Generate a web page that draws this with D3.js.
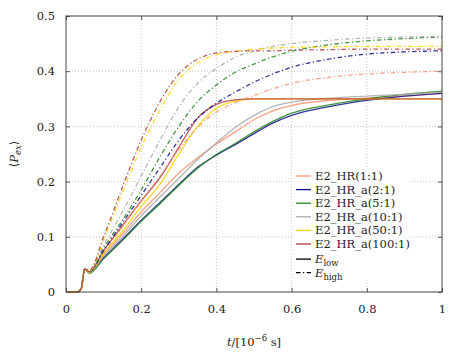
<!DOCTYPE html>
<html>
<head>
<meta charset="utf-8">
<script src="https://cdn.jsdelivr.net/npm/d3@7"></script>
<style>
  body { margin: 0; background: #fff; }
</style>
</head>
<body>
<div id="chart"></div>
<script>
// sample times (in 1e-6 s)
var times = [0, 0.03, 0.04, 0.05, 0.062, 0.1, 0.15, 0.2, 0.25, 0.3, 0.35, 0.4, 0.45, 0.5, 0.55, 0.6, 0.7, 0.8, 0.9, 1.0];

// E_low (solid)
var lowHR11   = [0, 0, 0.005, 0.042, 0.036, 0.068, 0.105, 0.145, 0.18, 0.215, 0.243, 0.268, 0.29, 0.312, 0.328, 0.338, 0.347, 0.351, 0.355, 0.36];
var lowHR21   = [0, 0, 0.005, 0.042, 0.035, 0.062, 0.095, 0.13, 0.162, 0.195, 0.226, 0.248, 0.267, 0.287, 0.306, 0.32, 0.336, 0.347, 0.355, 0.36];
var lowHR51   = [0, 0, 0.005, 0.042, 0.034, 0.06, 0.093, 0.128, 0.16, 0.193, 0.224, 0.249, 0.269, 0.29, 0.309, 0.324, 0.339, 0.35, 0.358, 0.364];
var lowHR101  = [0, 0, 0.005, 0.042, 0.035, 0.065, 0.1, 0.138, 0.172, 0.206, 0.24, 0.27, 0.298, 0.32, 0.336, 0.344, 0.351, 0.355, 0.358, 0.362];
var lowHR501  = [0, 0, 0.005, 0.042, 0.036, 0.07, 0.11, 0.155, 0.195, 0.25, 0.30, 0.333, 0.346, 0.35, 0.35, 0.35, 0.35, 0.35, 0.35, 0.35];
var lowHR1001 = [0, 0, 0.005, 0.042, 0.037, 0.075, 0.12, 0.165, 0.207, 0.262, 0.315, 0.34, 0.348, 0.35, 0.35, 0.35, 0.35, 0.35, 0.35, 0.35];

// E_high (dash-dot)
var highHR11   = [0, 0, 0.005, 0.042, 0.037, 0.072, 0.118, 0.165, 0.21, 0.258, 0.298, 0.326, 0.343, 0.356, 0.368, 0.378, 0.389, 0.395, 0.398, 0.40];
var highHR21   = [0, 0, 0.005, 0.042, 0.037, 0.075, 0.125, 0.175, 0.225, 0.275, 0.315, 0.342, 0.362, 0.38, 0.395, 0.407, 0.422, 0.431, 0.435, 0.437];
var highHR51   = [0, 0, 0.005, 0.042, 0.037, 0.08, 0.13, 0.185, 0.245, 0.3, 0.345, 0.375, 0.398, 0.413, 0.426, 0.436, 0.448, 0.455, 0.459, 0.462];
var highHR101  = [0, 0, 0.005, 0.042, 0.038, 0.085, 0.145, 0.21, 0.275, 0.335, 0.378, 0.405, 0.425, 0.437, 0.445, 0.45, 0.456, 0.46, 0.462, 0.463];
var highHR501  = [0, 0, 0.005, 0.042, 0.038, 0.095, 0.18, 0.262, 0.33, 0.385, 0.415, 0.43, 0.436, 0.44, 0.442, 0.443, 0.444, 0.445, 0.445, 0.445];
var highHR1001 = [0, 0, 0.005, 0.042, 0.039, 0.1, 0.19, 0.275, 0.345, 0.395, 0.422, 0.433, 0.436, 0.437, 0.437, 0.438, 0.439, 0.44, 0.44, 0.44];

var seriesNames = ["E2_HR(1:1)", "E2_HR_a(2:1)", "E2_HR_a(5:1)", "E2_HR_a(10:1)", "E2_HR_a(50:1)", "E2_HR_a(100:1)"];
var seriesColors = ["#f7946f", "#10108a", "#228422", "#a8a8a8", "#ffd200", "#b23c3c"];
var lowSeries = [lowHR11, lowHR21, lowHR51, lowHR101, lowHR501, lowHR1001];
var highSeries = [highHR11, highHR21, highHR51, highHR101, highHR501, highHR1001];

var xTicks = [0, 0.2, 0.4, 0.6, 0.8, 1];
var yTicks = [0, 0.1, 0.2, 0.3, 0.4, 0.5];

var FONT = "'DejaVu Serif'";
var FS = 11.5, FSS = 8.5;
var DASHDOT = "4.5,2.5,1.2,2.5";
var W = 463, H = 352;
var margin = { left: 66, right: 21, top: 16, bottom: 60 };
var pw = W - margin.left - margin.right, ph = H - margin.top - margin.bottom;

var svg = d3.select("#chart").append("svg").attr("width", W).attr("height", H)
  .style("font-family", FONT);
var g = svg.append("g").attr("transform", "translate(" + margin.left + "," + margin.top + ")");

var x = d3.scaleLinear().domain([0, 1]).range([0, pw]);
var y = d3.scaleLinear().domain([0, 0.5]).range([ph, 0]);

// grid
g.selectAll(".gx").data(xTicks.slice(1, -1)).enter().append("line")
  .attr("x1", x).attr("x2", x).attr("y1", 0).attr("y2", ph)
  .attr("stroke", "#b8b8b8").attr("stroke-width", 0.8).attr("stroke-dasharray", "1,2");
g.selectAll(".gy").data(yTicks.slice(1, -1)).enter().append("line")
  .attr("y1", y).attr("y2", y).attr("x1", 0).attr("x2", pw)
  .attr("stroke", "#b8b8b8").attr("stroke-width", 0.8).attr("stroke-dasharray", "1,2");

// axes with inward ticks on all sides
function styleAxis(sel) {
  sel.attr("font-family", null).style("font-family", FONT).attr("font-size", FS);
  sel.select(".domain").remove();
  sel.selectAll(".tick line").attr("stroke", "#555");
  sel.selectAll(".tick text").attr("fill", "#222");
}
g.append("g").attr("transform", "translate(0," + ph + ")")
  .call(d3.axisBottom(x).tickValues(xTicks).tickSize(-4).tickPadding(13).tickFormat(d3.format("")))
  .call(styleAxis);
g.append("g")
  .call(d3.axisLeft(y).tickValues(yTicks).tickSize(-4).tickPadding(11).tickFormat(d3.format("")))
  .call(styleAxis);
g.append("g")
  .call(d3.axisTop(x).tickValues(xTicks).tickSize(-4).tickFormat(""))
  .call(styleAxis);
g.append("g").attr("transform", "translate(" + pw + ",0)")
  .call(d3.axisRight(y).tickValues(yTicks).tickSize(-4).tickFormat(""))
  .call(styleAxis);

// lines
var line = d3.line().x(function(d, i) { return x(times[i]); }).y(function(d) { return y(d); })
  .curve(d3.curveMonotoneX);

var lines = g.append("g");
lowSeries.forEach(function(s, i) {
  lines.append("path").datum(s).attr("d", line).attr("fill", "none")
    .attr("stroke", seriesColors[i]).attr("stroke-width", 1.3).attr("stroke-opacity", 0.85);
});
highSeries.forEach(function(s, i) {
  lines.append("path").datum(s).attr("d", line).attr("fill", "none")
    .attr("stroke", seriesColors[i]).attr("stroke-width", 1.3).attr("stroke-opacity", 0.85)
    .attr("stroke-dasharray", DASHDOT);
});

// frame
g.append("rect").attr("width", pw).attr("height", ph).attr("fill", "none")
  .attr("stroke", "#444").attr("stroke-width", 1);

// legend
var legX = 230, legY = 160, rowH = 13.6;
g.append("rect").attr("x", legX - 4).attr("y", legY - 9).attr("width", 119).attr("height", 113).attr("fill", "#fff");
var legItems = seriesNames.map(function(n, i) { return { label: n, color: seriesColors[i], dash: null }; });
legItems.push({ label: "low", color: "#000", dash: null, energy: true });
legItems.push({ label: "high", color: "#000", dash: DASHDOT, energy: true });

var leg = g.selectAll(".leg").data(legItems).enter().append("g")
  .attr("transform", function(d, i) { return "translate(" + legX + "," + (legY + i * rowH + (d.energy ? 1.5 : 0)) + ")"; });
leg.append("line").attr("x1", 0).attr("x2", 15).attr("y1", 0).attr("y2", 0)
  .attr("stroke", function(d) { return d.color; }).attr("stroke-width", 1.3)
  .attr("stroke-dasharray", function(d) { return d.dash; });
var lt = leg.append("text").attr("x", 19).attr("y", 4).attr("fill", "#222")
  .style("font-family", FONT).attr("font-size", FS);
lt.each(function(d) {
  var t = d3.select(this);
  if (d.energy) {
    t.append("tspan").attr("font-style", "italic").text("E");
    t.append("tspan").attr("dy", 3).attr("font-size", FSS).text(d.label);
  } else {
    t.text(d.label);
  }
});

// axis titles
var xt = svg.append("text").attr("x", margin.left + pw / 2).attr("y", 346)
  .attr("text-anchor", "middle").attr("fill", "#222").style("font-family", FONT).attr("font-size", FS);
xt.append("tspan").attr("font-style", "italic").text("t");
xt.append("tspan").text("/[10");
xt.append("tspan").attr("dy", -5).attr("font-size", FSS).text("\u22126");
xt.append("tspan").attr("dy", 5).text(" s]");

var yt = svg.append("text").attr("transform", "translate(18," + (margin.top + ph / 2) + ") rotate(-90)")
  .attr("text-anchor", "middle").attr("fill", "#222").style("font-family", FONT).attr("font-size", FS);
yt.append("tspan").text("\u27E8");
yt.append("tspan").attr("font-style", "italic").text("P");
yt.append("tspan").attr("dy", 3).attr("font-style", "italic").attr("font-size", FSS).text("ex");
yt.append("tspan").attr("dy", -3).text("\u27E9");
</script>
</body>
</html>
